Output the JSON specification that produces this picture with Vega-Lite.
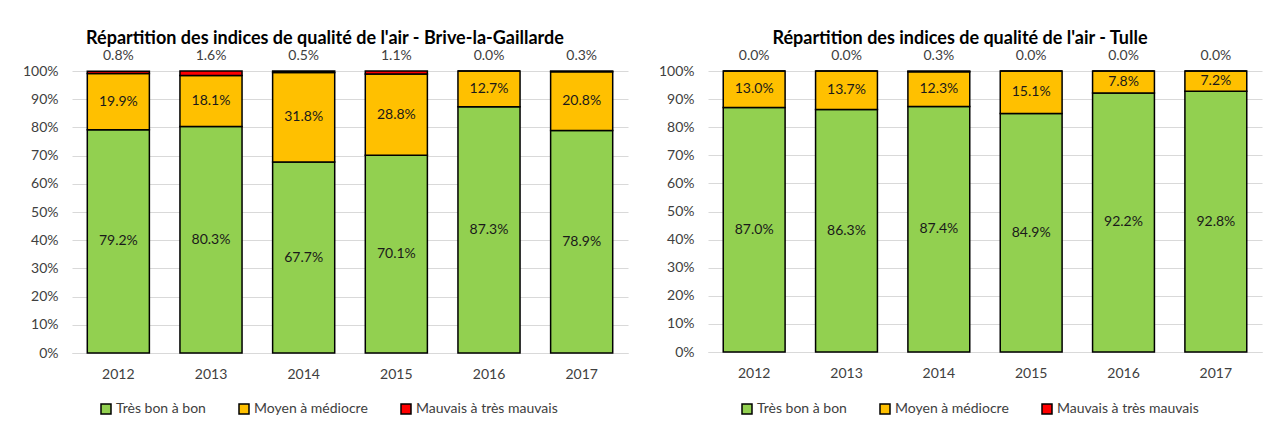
{
  "$schema": "https://vega.github.io/schema/vega-lite/v6.json",
  "background": "white",
  "padding": {"left": 22, "top": 30, "right": 6, "bottom": 4},
  "datasets": {
    "indices": [
      {"ville": "Brive-la-Gaillarde", "annee": "2012", "categorie": "Très bon à bon", "ordre": 1, "valeur": 0.792},
      {"ville": "Brive-la-Gaillarde", "annee": "2012", "categorie": "Moyen à médiocre", "ordre": 2, "valeur": 0.199},
      {"ville": "Brive-la-Gaillarde", "annee": "2012", "categorie": "Mauvais à très mauvais", "ordre": 3, "valeur": 0.008},
      {"ville": "Brive-la-Gaillarde", "annee": "2013", "categorie": "Très bon à bon", "ordre": 1, "valeur": 0.803},
      {"ville": "Brive-la-Gaillarde", "annee": "2013", "categorie": "Moyen à médiocre", "ordre": 2, "valeur": 0.181},
      {"ville": "Brive-la-Gaillarde", "annee": "2013", "categorie": "Mauvais à très mauvais", "ordre": 3, "valeur": 0.016},
      {"ville": "Brive-la-Gaillarde", "annee": "2014", "categorie": "Très bon à bon", "ordre": 1, "valeur": 0.677},
      {"ville": "Brive-la-Gaillarde", "annee": "2014", "categorie": "Moyen à médiocre", "ordre": 2, "valeur": 0.318},
      {"ville": "Brive-la-Gaillarde", "annee": "2014", "categorie": "Mauvais à très mauvais", "ordre": 3, "valeur": 0.005},
      {"ville": "Brive-la-Gaillarde", "annee": "2015", "categorie": "Très bon à bon", "ordre": 1, "valeur": 0.701},
      {"ville": "Brive-la-Gaillarde", "annee": "2015", "categorie": "Moyen à médiocre", "ordre": 2, "valeur": 0.288},
      {"ville": "Brive-la-Gaillarde", "annee": "2015", "categorie": "Mauvais à très mauvais", "ordre": 3, "valeur": 0.011},
      {"ville": "Brive-la-Gaillarde", "annee": "2016", "categorie": "Très bon à bon", "ordre": 1, "valeur": 0.873},
      {"ville": "Brive-la-Gaillarde", "annee": "2016", "categorie": "Moyen à médiocre", "ordre": 2, "valeur": 0.127},
      {"ville": "Brive-la-Gaillarde", "annee": "2016", "categorie": "Mauvais à très mauvais", "ordre": 3, "valeur": 0.0},
      {"ville": "Brive-la-Gaillarde", "annee": "2017", "categorie": "Très bon à bon", "ordre": 1, "valeur": 0.789},
      {"ville": "Brive-la-Gaillarde", "annee": "2017", "categorie": "Moyen à médiocre", "ordre": 2, "valeur": 0.208},
      {"ville": "Brive-la-Gaillarde", "annee": "2017", "categorie": "Mauvais à très mauvais", "ordre": 3, "valeur": 0.003},
      {"ville": "Tulle", "annee": "2012", "categorie": "Très bon à bon", "ordre": 1, "valeur": 0.870},
      {"ville": "Tulle", "annee": "2012", "categorie": "Moyen à médiocre", "ordre": 2, "valeur": 0.130},
      {"ville": "Tulle", "annee": "2012", "categorie": "Mauvais à très mauvais", "ordre": 3, "valeur": 0.0},
      {"ville": "Tulle", "annee": "2013", "categorie": "Très bon à bon", "ordre": 1, "valeur": 0.863},
      {"ville": "Tulle", "annee": "2013", "categorie": "Moyen à médiocre", "ordre": 2, "valeur": 0.137},
      {"ville": "Tulle", "annee": "2013", "categorie": "Mauvais à très mauvais", "ordre": 3, "valeur": 0.0},
      {"ville": "Tulle", "annee": "2014", "categorie": "Très bon à bon", "ordre": 1, "valeur": 0.874},
      {"ville": "Tulle", "annee": "2014", "categorie": "Moyen à médiocre", "ordre": 2, "valeur": 0.123},
      {"ville": "Tulle", "annee": "2014", "categorie": "Mauvais à très mauvais", "ordre": 3, "valeur": 0.003},
      {"ville": "Tulle", "annee": "2015", "categorie": "Très bon à bon", "ordre": 1, "valeur": 0.849},
      {"ville": "Tulle", "annee": "2015", "categorie": "Moyen à médiocre", "ordre": 2, "valeur": 0.151},
      {"ville": "Tulle", "annee": "2015", "categorie": "Mauvais à très mauvais", "ordre": 3, "valeur": 0.0},
      {"ville": "Tulle", "annee": "2016", "categorie": "Très bon à bon", "ordre": 1, "valeur": 0.922},
      {"ville": "Tulle", "annee": "2016", "categorie": "Moyen à médiocre", "ordre": 2, "valeur": 0.078},
      {"ville": "Tulle", "annee": "2016", "categorie": "Mauvais à très mauvais", "ordre": 3, "valeur": 0.0},
      {"ville": "Tulle", "annee": "2017", "categorie": "Très bon à bon", "ordre": 1, "valeur": 0.928},
      {"ville": "Tulle", "annee": "2017", "categorie": "Moyen à médiocre", "ordre": 2, "valeur": 0.072},
      {"ville": "Tulle", "annee": "2017", "categorie": "Mauvais à très mauvais", "ordre": 3, "valeur": 0.0}
    ]
  },
  "spacing": 30,
  "resolve": {"scale": {"color": "independent"}, "legend": {"color": "independent"}},
  "hconcat": [
    {
      "width": 556,
      "height": 282,
      "title": {"text": "Répartition des indices de qualité de l'air - Brive-la-Gaillarde"},
      "data": {"name": "indices"},
      "transform": [
        {"filter": "datum.ville === 'Brive-la-Gaillarde'"},
        {"stack": "valeur", "groupby": ["annee"], "sort": [{"field": "ordre"}], "as": ["y0", "y1"]},
        {"calculate": "(datum.y0 + datum.y1) / 2", "as": "ymid"}
      ],
      "layer": [
        {
          "mark": {"type": "bar", "stroke": "black", "strokeWidth": 1.5},
          "encoding": {
            "x": {"field": "annee", "type": "ordinal", "scale": {"paddingInner": 0.33, "paddingOuter": 0.165}},
            "y": {"field": "y0", "type": "quantitative", "scale": {"domain": [0, 1]}},
            "y2": {"field": "y1"},
            "color": {"field": "categorie", "type": "nominal", "scale": {"domain": ["Très bon à bon", "Moyen à médiocre", "Mauvais à très mauvais"], "range": ["#92D050", "#FFC000", "#FF0000"]}, "sort": null, "legend": {"legendX": 27, "legendY": 331}}
          }
        },
        {
          "transform": [{"filter": "datum.ordre < 3"}],
          "mark": {"type": "text", "fontSize": 14, "color": "#1a1a1a"},
          "encoding": {
            "x": {"field": "annee", "type": "ordinal"},
            "y": {"field": "ymid", "type": "quantitative"},
            "text": {"field": "valeur", "type": "quantitative", "format": ".1%"}
          }
        },
        {
          "transform": [{"filter": "datum.ordre === 3"}],
          "mark": {"type": "text", "fontSize": 14, "color": "#404040", "dy": -15},
          "encoding": {
            "x": {"field": "annee", "type": "ordinal"},
            "y": {"datum": 1},
            "text": {"field": "valeur", "type": "quantitative", "format": ".1%"}
          }
        }
      ]
    },
    {
      "width": 554,
      "height": 281,
      "title": {"text": "Répartition des indices de qualité de l'air - Tulle"},
      "data": {"name": "indices"},
      "transform": [
        {"filter": "datum.ville === 'Tulle'"},
        {"stack": "valeur", "groupby": ["annee"], "sort": [{"field": "ordre"}], "as": ["y0", "y1"]},
        {"calculate": "(datum.y0 + datum.y1) / 2", "as": "ymid"}
      ],
      "layer": [
        {
          "mark": {"type": "bar", "stroke": "black", "strokeWidth": 1.5},
          "encoding": {
            "x": {"field": "annee", "type": "ordinal", "scale": {"paddingInner": 0.33, "paddingOuter": 0.165}},
            "y": {"field": "y0", "type": "quantitative", "scale": {"domain": [0, 1]}},
            "y2": {"field": "y1"},
            "color": {"field": "categorie", "type": "nominal", "scale": {"domain": ["Très bon à bon", "Moyen à médiocre", "Mauvais à très mauvais"], "range": ["#92D050", "#FFC000", "#FF0000"]}, "sort": null, "legend": {"legendX": 32, "legendY": 331}}
          }
        },
        {
          "transform": [{"filter": "datum.ordre < 3"}],
          "mark": {"type": "text", "fontSize": 14, "color": "#1a1a1a"},
          "encoding": {
            "x": {"field": "annee", "type": "ordinal"},
            "y": {"field": "ymid", "type": "quantitative"},
            "text": {"field": "valeur", "type": "quantitative", "format": ".1%"}
          }
        },
        {
          "transform": [{"filter": "datum.ordre === 3"}],
          "mark": {"type": "text", "fontSize": 14, "color": "#404040", "dy": -15},
          "encoding": {
            "x": {"field": "annee", "type": "ordinal"},
            "y": {"datum": 1},
            "text": {"field": "valeur", "type": "quantitative", "format": ".1%"}
          }
        }
      ]
    }
  ],
  "config": {
    "font": "Lato",
    "view": {"stroke": null},
    "title": {"fontSize": 18, "fontWeight": "bold", "color": "black", "anchor": "middle", "frame": "bounds", "offset": 1},
    "axisX": {"title": null, "labelAngle": 0, "ticks": false, "domain": true, "domainColor": "#D9D9D9", "labelPadding": 14, "labelFontSize": 14, "labelColor": "#404040"},
    "axisY": {"title": null, "format": ".0%", "values": [0, 0.1, 0.2, 0.3, 0.4, 0.5, 0.6, 0.7, 0.8, 0.9, 1], "ticks": false, "domain": false, "grid": true, "gridColor": "#D9D9D9", "labelPadding": 14, "labelFontSize": 14, "labelColor": "#404040", "minExtent": 50, "maxExtent": 50},
    "legend": {"orient": "none", "direction": "horizontal", "title": null, "symbolType": "square", "symbolSize": 100, "symbolStrokeColor": "black", "symbolStrokeWidth": 1.5, "labelFontSize": 14, "labelColor": "#404040", "columnPadding": 30, "labelOffset": 3}
  }
}
